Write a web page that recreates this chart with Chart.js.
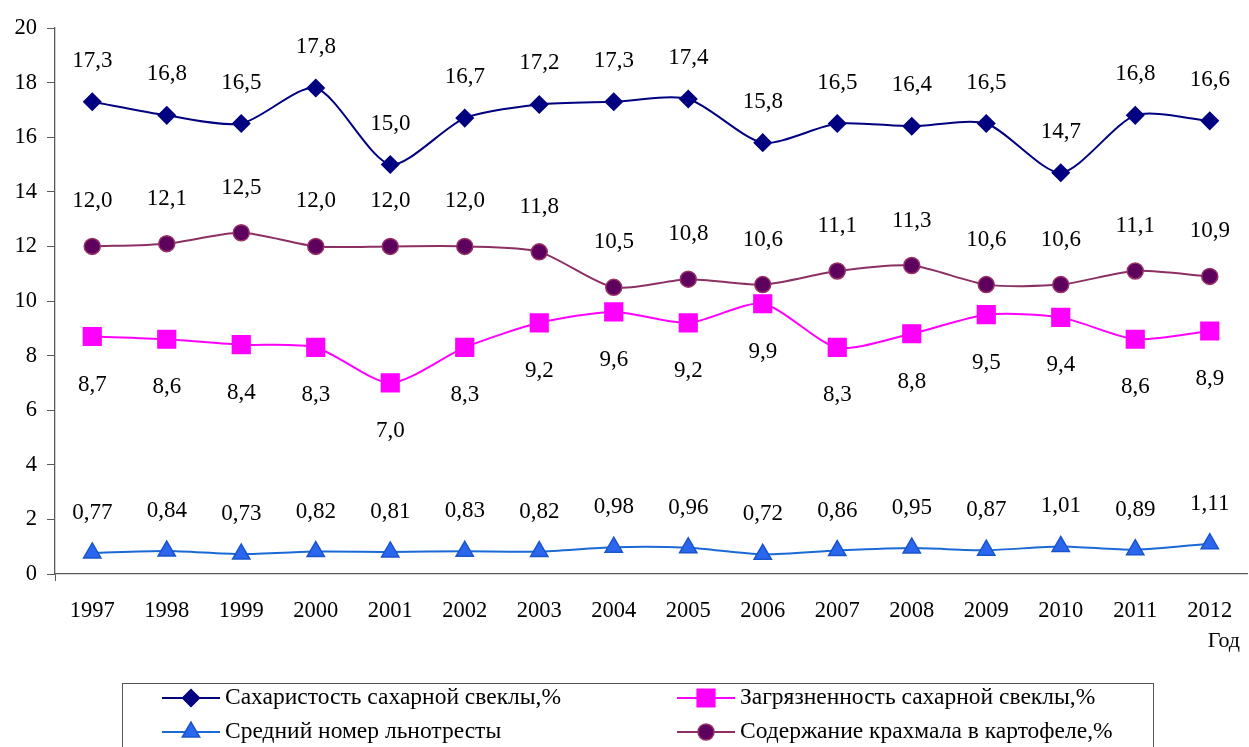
<!DOCTYPE html>
<html lang="ru">
<head>
<meta charset="utf-8">
<title>Качество сырья, 1997–2012</title>
<script src="https://cdn.jsdelivr.net/npm/chart.js@4/dist/chart.umd.min.js"></script>
<style>
  html, body { margin: 0; padding: 0; background: #fff; }
  #wrap { width: 1249px; height: 747px; position: relative; }
</style>
</head>
<body>
<div id="wrap"><canvas id="chart" width="1249" height="747"></canvas></div>
<script>
const years = ['1997', '1998', '1999', '2000', '2001', '2002', '2003', '2004',
  '2005', '2006', '2007', '2008', '2009', '2010', '2011', '2012'];

const sugarContent = [17.3, 16.8, 16.5, 17.8, 15.0, 16.7, 17.2, 17.3, 17.4, 15.8, 16.5, 16.4, 16.5, 14.7, 16.8, 16.6];
const beetDirt = [8.7, 8.6, 8.4, 8.3, 7.0, 8.3, 9.2, 9.6, 9.2, 9.9, 8.3, 8.8, 9.5, 9.4, 8.6, 8.9];
const flaxNumber = [0.77, 0.84, 0.73, 0.82, 0.81, 0.83, 0.82, 0.98, 0.96, 0.72, 0.86, 0.95, 0.87, 1.01, 0.89, 1.11];
const starchContent = [12.0, 12.1, 12.5, 12.0, 12.0, 12.0, 11.8, 10.5, 10.8, 10.6, 11.1, 11.3, 10.6, 10.6, 11.1, 10.9];

const yTicks = [0, 2, 4, 6, 8, 10, 12, 14, 16, 18, 20];

const FONT = '"Liberation Serif", "Times New Roman", serif';
const AXIS = '#5a5a5a';

// decimal comma, fixed digits per series
const fmt = (v, d) => v.toFixed(d).replace('.', ',');

const datasets = [
  {
    label: 'Сахаристость сахарной свеклы,%',
    data: sugarContent,
    borderColor: '#000080',
    backgroundColor: '#000080',
    pointStyle: 'rectRot',
    pointRadius: 8.5,
    digits: 1, labelDy: -41,
    legendPos: [0, 0]
  },
  {
    label: 'Загрязненность сахарной свеклы,%',
    data: beetDirt,
    borderColor: '#ff00ff',
    backgroundColor: '#ff00ff',
    pointStyle: 'rect',
    pointRadius: 12.5,
    digits: 1, labelDy: 48,
    legendPos: [1, 0]
  },
  {
    label: 'Средний номер льнотресты',
    data: flaxNumber,
    borderColor: '#1a6ad6',
    backgroundColor: '#2a66ee',
    pointBorderColor: '#1a55cc',
    pointStyle: 'triangle',
    pointRadius: 10,
    digits: 2, labelDy: -40,
    legendPos: [0, 1]
  },
  {
    label: 'Содержание крахмала в картофеле,%',
    data: starchContent,
    borderColor: '#8c3064',
    backgroundColor: '#5e005e',
    pointBorderColor: '#993366',
    pointStyle: 'circle',
    pointRadius: 8,
    digits: 1, labelDy: -45,
    legendPos: [1, 1]
  }
];

datasets.forEach(ds => {
  ds.borderWidth = 2;
  ds.tension = 0.25;
  ds.fill = false;
  ds.pointBorderWidth = 1.5;
  ds.pointBorderColor = ds.pointBorderColor || ds.backgroundColor;
  ds.pointHoverRadius = ds.pointRadius;
});

// value labels next to every point
const valueLabels = {
  id: 'valueLabels',
  afterDatasetsDraw(chart) {
    const ctx = chart.ctx;
    ctx.save();
    ctx.font = '23px ' + FONT;
    ctx.fillStyle = '#000';
    ctx.textAlign = 'center';
    ctx.textBaseline = 'middle';
    chart.data.datasets.forEach((ds, i) => {
      chart.getDatasetMeta(i).data.forEach((pt, j) => {
        ctx.fillText(fmt(ds.data[j], ds.digits), pt.x, pt.y + ds.labelDy);
      });
    });
    ctx.restore();
  }
};

// boxed two-column legend and the axis caption under the years
const boxLegend = {
  id: 'boxLegend',
  afterDraw(chart) {
    const ctx = chart.ctx;
    const area = chart.chartArea;
    ctx.save();

    ctx.font = '22px ' + FONT;
    ctx.fillStyle = '#000';
    ctx.textAlign = 'right';
    ctx.textBaseline = 'middle';
    ctx.fillText('Год', area.right - 7, area.bottom + 67);

    const box = { x: 122.5, y: 683.5, w: 1031, h: 80 };
    ctx.strokeStyle = '#555';
    ctx.lineWidth = 1;
    ctx.strokeRect(box.x, box.y, box.w, box.h);

    const colX = [162, 677];
    const rowY = [698, 732];
    ctx.font = '23.5px ' + FONT;
    ctx.textAlign = 'left';
    chart.data.datasets.forEach(ds => {
      const x = colX[ds.legendPos[0]];
      const y = rowY[ds.legendPos[1]];
      ctx.strokeStyle = ds.borderColor;
      ctx.lineWidth = 2;
      ctx.beginPath();
      ctx.moveTo(x, y);
      ctx.lineTo(x + 58, y);
      ctx.stroke();
      ctx.fillStyle = ds.backgroundColor;
      ctx.strokeStyle = ds.pointBorderColor;
      ctx.lineWidth = 1.5;
      Chart.helpers.drawPoint(ctx, {
        pointStyle: ds.pointStyle,
        radius: ds.pointRadius,
        rotation: 0,
        borderWidth: 1.5
      }, x + 29, y);
      ctx.fillStyle = '#000';
      ctx.fillText(ds.label, x + 63, y);
    });
    ctx.restore();
  }
};

new Chart(document.getElementById('chart'), {
  type: 'line',
  data: { labels: years, datasets },
  plugins: [valueLabels, boxLegend],
  options: {
    responsive: false,
    animation: false,
    events: [],
    layout: {
      autoPadding: false, // markers may overflow the plot edges
      padding: { top: 28, right: 2, bottom: 113, left: 0 }
    },
    plugins: {
      legend: { display: false },
      tooltip: { enabled: false }
    },
    scales: {
      x: {
        offset: true,
        border: { color: AXIS, width: 1.3 },
        grid: {
          offset: true,
          drawOnChartArea: false,
          tickLength: 7,
          color: c => (c.index === 0 ? AXIS : 'rgba(0,0,0,0)')
        },
        ticks: {
          color: '#000',
          font: { family: FONT, size: 22.5 },
          padding: 17,
          maxRotation: 0,
          autoSkip: false
        },
        afterFit(scale) {
          scale.height = 60;
          scale.paddingLeft = 0;
          scale.paddingRight = 0;
        }
      },
      y: {
        min: 0,
        max: 20,
        border: { color: AXIS, width: 1.3 },
        grid: { drawOnChartArea: false, tickLength: 8, color: AXIS },
        afterBuildTicks(scale) { scale.ticks = yTicks.map(v => ({ value: v })); },
        ticks: {
          color: '#000',
          font: { family: FONT, size: 22.5 },
          padding: 10
        },
        afterFit(scale) {
          scale.width = 55;
          scale.paddingTop = 0;
          scale.paddingBottom = 0;
        }
      }
    }
  }
});
</script>
</body>
</html>
